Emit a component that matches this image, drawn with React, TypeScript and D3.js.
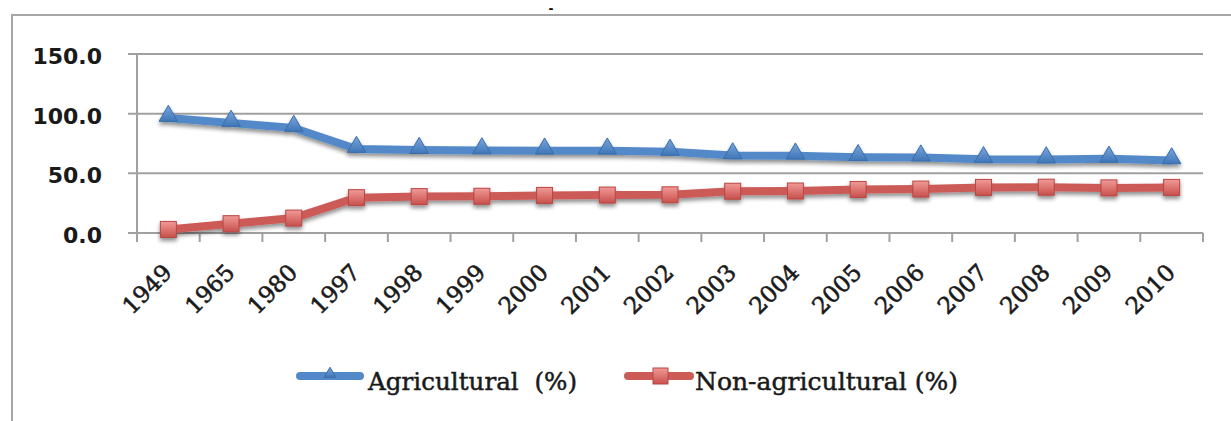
import React from "react";
import * as d3 from "d3";

const years = ["1949", "1965", "1980", "1997", "1998", "1999", "2000", "2001", "2002", "2003", "2004", "2005", "2006", "2007", "2008", "2009", "2010"];
const agricultural = [96.4, 92.2, 88.0, 70.4, 69.5, 69.2, 69.0, 69.0, 68.0, 65.0, 64.8, 63.5, 63.2, 61.8, 61.6, 62.2, 60.8];
const nonAgricultural = [3.0, 7.8, 12.5, 29.6, 30.5, 30.8, 31.5, 31.8, 32.0, 35.0, 35.2, 36.5, 36.8, 38.2, 38.4, 37.8, 38.2];
const yTicks = [0, 50, 100, 150];

const W = 1231;
const H = 421;
const margin = { left: 137, right: 28, top: 54, bottom: 188 };
const BLUE = "#5389c8";
const RED = "#cc5a57";

export default function App() {
  const x = d3
    .scaleBand<string>()
    .domain(years)
    .range([margin.left, W - margin.right]);
  const y = d3
    .scaleLinear()
    .domain([0, 150])
    .range([H - margin.bottom, margin.top]);
  const cx = (d: string) => (x(d) ?? 0) + x.bandwidth() / 2;

  const line = d3
    .line<number>()
    .x((_, i) => cx(years[i]))
    .y((v) => y(v));

  const x0 = margin.left;
  const x1 = W - margin.right;
  const yBase = y(0);

  return (
    <div style={{ position: "absolute", left: 0, top: 0 }}>
      <svg width={W} height={H} style={{ display: "block" }}>
        <defs>
          <filter id="shadow" x="-50%" y="-50%" width="200%" height="200%">
            <feGaussianBlur in="SourceAlpha" stdDeviation="2" />
            <feOffset dx="0" dy="3" result="b" />
            <feComponentTransfer>
              <feFuncA type="linear" slope="0.45" />
            </feComponentTransfer>
            <feMerge>
              <feMergeNode />
              <feMergeNode in="SourceGraphic" />
            </feMerge>
          </filter>
          <linearGradient id="gBlue" x1="0" y1="0" x2="0" y2="1">
            <stop offset="0" stopColor="#7aa6dc" />
            <stop offset="1" stopColor="#3f76b8" />
          </linearGradient>
          <linearGradient id="gRed" x1="0" y1="0" x2="0" y2="1">
            <stop offset="0" stopColor="#f09a97" />
            <stop offset="1" stopColor="#c8504c" />
          </linearGradient>
        </defs>

        <rect x={0} y={0} width={W} height={H} fill="#fff" />
        {/* outer chart frame */}
        <path d={`M12,${H} V15 H${W}`} fill="none" stroke="#a6a6a6" strokeWidth={2} />
        <text x={551} y={13} fontSize={12} fontFamily="DejaVu Sans" fontWeight="bold" textAnchor="middle">-</text>

        {/* gridlines */}
        {yTicks.map((t) => (
          <g key={t}>
            <line x1={x0 - 9} x2={x1} y1={y(t)} y2={y(t)} stroke="#a0a0a0" strokeWidth={2} />
            <text
              x={102}
              y={y(t) + 2}
              dy="0.36em"
              textAnchor="end"
              fontSize={22}
              fontWeight="bold"
              fontFamily="'DejaVu Sans', sans-serif"
              fill="#1a1a1a"
            >
              {t.toFixed(1)}
            </text>
          </g>
        ))}
        <line x1={x0} x2={x0} y1={y(150)} y2={yBase + 9} stroke="#a0a0a0" strokeWidth={2} />
        {years.map((yr) => (
          <line key={yr} x1={(x(yr) ?? 0) + x.bandwidth()} x2={(x(yr) ?? 0) + x.bandwidth()} y1={yBase} y2={yBase + 9} stroke="#a0a0a0" strokeWidth={2} />
        ))}

        {/* x labels */}
        {years.map((yr) => (
          <text
            key={yr}
            transform={`translate(${cx(yr) + 5},${yBase + 41}) rotate(-45)`}
            textAnchor="end"
            fontSize={23}
            fontFamily="'DejaVu Serif', serif"
            fill="#1a1a1a"
            stroke="#1a1a1a"
            strokeWidth={0.6}
          >
            {yr}
          </text>
        ))}

        {/* series lines */}
        <g filter="url(#shadow)">
          <path d={line(agricultural) ?? ""} fill="none" stroke={BLUE} strokeWidth={8} strokeLinejoin="round" />
          <path d={line(nonAgricultural) ?? ""} fill="none" stroke={RED} strokeWidth={8} strokeLinejoin="round" />
          {agricultural.map((v, i) => (
            <path
              key={"a" + i}
              d={d3.symbol(d3.symbolTriangle, 150)() ?? ""}
              transform={`translate(${cx(years[i])},${y(v) - 2})`}
              fill="url(#gBlue)"
              stroke="#3a6ea8"
              strokeWidth={1}
            />
          ))}
          {nonAgricultural.map((v, i) => (
            <rect
              key={"n" + i}
              x={cx(years[i]) - 8}
              y={y(v) - 8}
              width={16}
              height={16}
              fill="url(#gRed)"
              stroke="#b84643"
              strokeWidth={1}
            />
          ))}
        </g>

        {/* legend */}
        <g fontFamily="'DejaVu Serif', serif" fontSize={25} fill="#1a1a1a" stroke="#1a1a1a" strokeWidth={0.5}>
          <line x1={300} x2={360} y1={376} y2={376} stroke={BLUE} strokeWidth={8} strokeLinecap="round" />
          <path d={d3.symbol(d3.symbolTriangle, 60)() ?? ""} transform="translate(330,374)" fill="url(#gBlue)" stroke="#3a6ea8" strokeWidth={1} />
          <text x={368} y={390} textLength={209} lengthAdjust="spacingAndGlyphs" style={{ whiteSpace: "pre" }}>Agricultural  (%)</text>
          <line x1={628} x2={690} y1={376} y2={376} stroke={RED} strokeWidth={8} strokeLinecap="round" />
          <rect x={653} y={368} width={15} height={16} fill="url(#gRed)" stroke="#b84643" strokeWidth={1} />
          <text x={695} y={390} textLength={263} lengthAdjust="spacingAndGlyphs" style={{ whiteSpace: "pre" }}>Non-agricultural (%)</text>
        </g>
      </svg>
    </div>
  );
}
